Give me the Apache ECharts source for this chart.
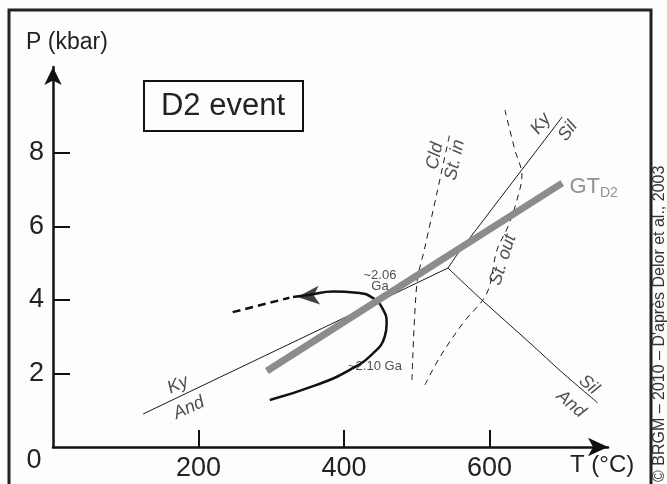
<!DOCTYPE html>
<html><head><meta charset="utf-8">
<script src="https://cdn.jsdelivr.net/npm/echarts@6/dist/echarts.min.js"></script>
<style>html,body{margin:0;padding:0;background:#fdfdfd}#c{width:667px;height:484px}</style>
</head><body><div id="c"></div>
<script>
// ---- data (T in °C, P in kbar) ----
const xTicks = [200, 400, 600];
const yTicks = [2, 4, 6, 8];
const kyAnd = [[124, 0.90], [394.5, 3.46], [543, 4.87]];
const kySil = [[543, 4.87], [555, 5.22], [700, 8.98]];
const silAnd = [[543, 4.87], [587, 4.05], [655.7, 2.83], [701, 2.01], [749, 1.20]];
const cldStIn = [[493.5, 1.82], [500.3, 4.46], [511.3, 5.44], [527.8, 6.91], [545.7, 8.54]];
const stOut = [[511.3, 1.69], [532, 2.45], [563.6, 3.37], [596.6, 4.19], [610.3, 5.36], [625.4, 5.99], [637.8, 6.72], [644.7, 7.40], [635, 8.08], [621.3, 9.17]];
const gtD2 = [[294, 2.07], [700, 7.18]];
const ptPath = [[298, 1.28], [362.5, 1.69], [408, 2.10], [440, 2.55], [456, 3.00], [458.7, 3.37], [454, 3.73], [440, 4.05], [417.5, 4.20], [385, 4.23], [353, 4.14], [330, 4.08]];
const ptPre = [[247, 3.67], [325, 4.06]];
const arrowHead = [[336, 4.08]];
// annotation texts
const annTexts = ['Ky', 'And', 'Cld', 'St. in', 'Ky', 'Sil', 'St. out', 'Sil', 'And'];
const annPos = [[171.8, 1.69], [187, 1.06], [525, 7.92], [552.6, 7.81], [670.8, 8.79], [707.9, 8.60], [618.6, 5.09], [736.8, 1.69], [712, 1.17]];
const annRot = [25, 25, 78, 78, 53, 53, 72, -40, -40];
const ageTexts = ['~2.06\nGa', '~2.10 Ga'];
const agePos = [[449.5, 4.52], [442.6, 2.18]];
const gtLabelPos = [[710, 7.07]];

const FONT = 'Liberation Sans, Arial, sans-serif';
const chart = echarts.init(document.getElementById('c'), null, {renderer: 'canvas'});

const line = (data, extra) => Object.assign({
  type: 'line', data: data, showSymbol: false, symbol: 'none', silent: true,
  lineStyle: {color: '#1a1a1a', width: 1}, z: 2
}, extra);

const annData = annTexts.map((t, i) => ({
  value: annPos[i],
  label: {formatter: t, rotate: annRot[i]}
}));
const ageData = ageTexts.map((t, i) => ({value: agePos[i], label: {formatter: t}}));

chart.setOption({
  animation: false,
  backgroundColor: '#fdfdfd',
  grid: {left: 53, right: 59, top: 67, bottom: 37},
  xAxis: {
    type: 'value', min: 0, max: 763, interval: 200,
    splitLine: {show: false},
    axisLine: {lineStyle: {color: '#111', width: 2.5}, symbol: ['none', 'arrow'], symbolSize: [14, 20]},
    axisTick: {inside: true, length: 17, customValues: xTicks, lineStyle: {color: '#111', width: 2}},
    axisLabel: {customValues: xTicks, fontSize: 27, color: '#222', margin: 8, fontFamily: FONT}
  },
  yAxis: {
    type: 'value', min: 0, max: 10.34, interval: 2,
    splitLine: {show: false},
    axisLine: {lineStyle: {color: '#111', width: 2.5}, symbol: ['none', 'arrow'], symbolSize: [13, 18]},
    axisTick: {inside: true, length: 17, customValues: yTicks, lineStyle: {color: '#111', width: 2}},
    axisLabel: {customValues: yTicks, fontSize: 27, color: '#222', margin: 9, fontFamily: FONT}
  },
  series: [
    line(kyAnd),
    line(kySil),
    line(silAnd, {smooth: 0.3}),
    line(cldStIn, {smooth: 0.3, lineStyle: {color: '#1a1a1a', width: 1, type: [6, 5]}}),
    line(stOut, {smooth: 0.35, lineStyle: {color: '#1a1a1a', width: 1, type: [6, 5]}}),
    line(ptPath, {smooth: 0.5, lineStyle: {color: '#111', width: 2.5}, z: 3}),
    line(ptPre, {lineStyle: {color: '#111', width: 2.5, type: [8, 5]}, z: 3}),
    line(gtD2, {lineStyle: {color: '#8c8c8c', width: 7, cap: 'butt'}, z: 4}),
    {
      type: 'scatter', data: arrowHead, symbol: 'arrow', symbolSize: [14, 22], symbolRotate: 95,
      itemStyle: {color: '#111'}, silent: true, z: 5
    },
    {
      type: 'scatter', data: annData, symbolSize: 0, silent: true, z: 6,
      label: {show: true, position: 'inside', fontSize: 18, fontStyle: 'italic', color: '#222', fontFamily: FONT}
    },
    {
      type: 'scatter', data: ageData, symbolSize: 0, silent: true, z: 6,
      label: {show: true, position: 'inside', fontSize: 13, lineHeight: 11, color: '#222', fontFamily: FONT, align: 'center'}
    },
    {
      type: 'scatter', data: gtLabelPos, symbolSize: 0, silent: true, z: 6,
      label: {show: true, position: 'right', distance: 0, formatter: '{a|GT}{b|D2}',
        rich: {a: {fontSize: 22, color: '#777', fontFamily: FONT}, b: {fontSize: 14, color: '#777', fontFamily: FONT, padding: [12, 0, 0, 0]}}}
    }
  ],
  graphic: [
    {type: 'rect', shape: {x: 9, y: 10, width: 642, height: 490}, style: {fill: 'none', stroke: '#222', lineWidth: 3}, z: 0, silent: true},
    {type: 'rect', shape: {x: 144, y: 81, width: 159, height: 50}, style: {fill: 'none', stroke: '#111', lineWidth: 2}, silent: true},
    {type: 'text', x: 223, y: 106, style: {text: 'D2 event', fontSize: 31, fontFamily: FONT, fill: '#222', align: 'center', verticalAlign: 'middle'}},
    {type: 'text', x: 26, y: 43, style: {text: 'P (kbar)', fontSize: 23, fontFamily: FONT, fill: '#222', align: 'left', verticalAlign: 'middle'}},
    {type: 'text', x: 570, y: 465, style: {text: 'T (°C)', fontSize: 24, fontFamily: FONT, fill: '#222', align: 'left', verticalAlign: 'middle'}},
    {type: 'text', x: 34, y: 461, style: {text: '0', fontSize: 27, fontFamily: FONT, fill: '#222', align: 'center', verticalAlign: 'middle'}},
    {type: 'text', x: 660, y: 482, rotation: Math.PI / 2, style: {text: "© BRGM – 2010 – D'après Delor et al., 2003", fontSize: 16, fontFamily: FONT, fill: '#333', align: 'left', verticalAlign: 'middle'}}
  ]
});
</script></body></html>
